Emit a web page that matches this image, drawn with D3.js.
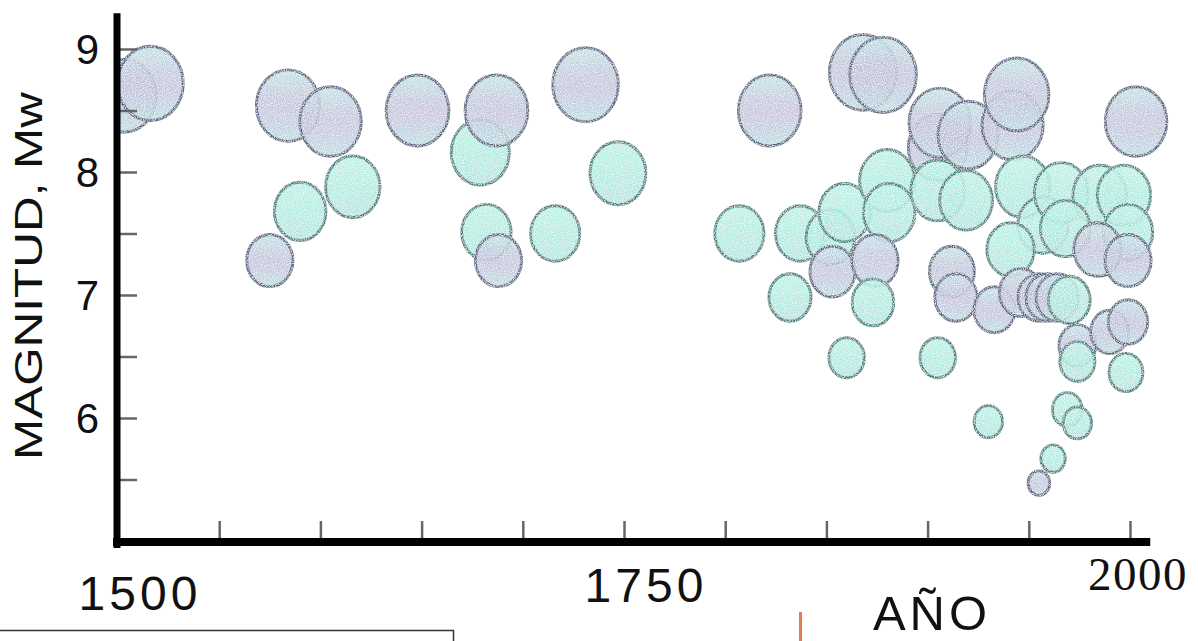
<!DOCTYPE html>
<html><head><meta charset="utf-8">
<script src="https://cdn.jsdelivr.net/npm/d3@7"></script>
<style>body{margin:0;background:#fff}svg{display:block}</style>
</head><body>
<script>
// ---- data ----
const years = [1503,1516,1584,1605,1616,1590,1575,1648,1679,1687,1731,1747,1682,1688,1716,1807,1822,1868,1878,
  1905,1906,1920,1942,1944,2003,1837,1852,1859,1880,1881,1905,1919,1947,1957,1966,1985,1997,1968,1999,1984,1999,1941,
  1832,1853,1874,1873,1912,1914,1933,1946,1955,1959,1964,1970,1974,1990,1999,1974,1998,1860,1905,1930,1969,1974,1962,1955];
const magnitudes = [8.62,8.72,8.54,8.41,7.88,7.68,7.28,8.50,8.16,8.50,8.71,7.99,7.51,7.28,7.50,7.50,8.50,8.81,8.79,
  8.20,8.40,8.30,8.38,8.63,8.41,7.50,7.47,7.67,7.93,7.67,7.85,7.77,7.88,7.57,7.83,7.81,7.81,7.54,7.51,7.37,7.28,7.37,
  6.98,7.19,7.28,6.94,7.19,6.98,6.88,7.02,6.98,6.98,6.98,6.96,6.59,6.70,6.78,6.46,6.37,6.49,6.49,5.97,6.07,5.96,5.67,5.47];
const tones = ["v","v","v","v","c","c","v","v","c","v","v","c","c","v","c","c","v","v","v",
  "v","v","v","v","v","v","c","c","c","c","c","c","c","c","c","c","c","c","c","c","v","v","c",
  "c","v","v","c","v","v","v","v","v","v","v","c","v","v","v","c","c","c","c","c","c","c","c","v"];
const yTickLabels = [6,7,8,9];
const xTickValues = [1550,1600,1650,1700,1750,1800,1850,1900,1950,2000];
const yTickValues = [5.5,6,6.5,7,7.5,8,8.5,9];
const xLabels = [{v:1500,t:"1500",serif:false},{v:1750,t:"1750",serif:false},{v:2000,t:"2000",serif:true}];

const W = 1198, H = 641;
const svg = d3.select("body").append("svg").attr("width", W).attr("height", H);
const x = d3.scaleLinear().domain([1500, 2000]).range([118, 1130]);
const y = d3.scaleLinear().domain([5, 9]).range([541, 49]);
const r = d3.scaleLinear().domain([5.5, 8.8]).range([11, 33.4]);

const defs = svg.append("defs");
const gv = defs.append("linearGradient").attr("id","gv").attr("x1",0).attr("y1",0).attr("x2",0).attr("y2",1);
[["0%","#b9dfe2"],["35%","#bcc3d9"],["55%","#bfbed7"],["80%","#b8cadc"],["100%","#b4dadc"]].forEach(s=>gv.append("stop").attr("offset",s[0]).attr("stop-color",s[1]));
const gc = defs.append("linearGradient").attr("id","gc").attr("x1",0).attr("y1",0).attr("x2",0).attr("y2",1);
[["0%","#b4efe4"],["50%","#a8eadd"],["100%","#aee0de"]].forEach(s=>gc.append("stop").attr("offset",s[0]).attr("stop-color",s[1]));
defs.append("clipPath").attr("id","plot").append("rect").attr("x",118).attr("y",0).attr("width",W-118).attr("height",541);

// grainy print texture
const f = defs.append("filter").attr("id","grain").attr("x","-10%").attr("y","-10%").attr("width","120%").attr("height","120%");
f.append("feTurbulence").attr("type","fractalNoise").attr("baseFrequency",0.9).attr("numOctaves",1).attr("seed",3).attr("result","noise");
f.append("feColorMatrix").attr("in","noise").attr("type","matrix")
  .attr("values","0 0 0 0 1  0 0 0 0 1  0 0 0 0 1  0 0 0 -2.2 1.3").attr("result","speck");
f.append("feComposite").attr("in","speck").attr("in2","SourceGraphic").attr("operator","in").attr("result","speckIn");
const fm = f.append("feMerge");
fm.append("feMergeNode").attr("in","SourceGraphic");
fm.append("feMergeNode").attr("in","speckIn");

const data = years.map((yr,i)=>({year:yr, mag:magnitudes[i], tone:tones[i]}));

svg.append("g").attr("clip-path","url(#plot)")
  .append("g").attr("filter","url(#grain)")
  .selectAll("ellipse").data(data).join("ellipse")
  .attr("cx", d=>x(d.year)).attr("cy", d=>y(d.mag))
  .attr("rx", d=>r(d.mag)).attr("ry", d=>r(d.mag)*1.13)
  .attr("fill", d=>d.tone==="c" ? "url(#gc)" : "url(#gv)")
  .attr("fill-opacity", 0.88)
  .attr("stroke", d=>d.tone==="c" ? "#4a817f" : "#5c6781")
  .attr("stroke-width", 2.9);

// axes (ticks)
const xAxis = d3.axisBottom(x).tickValues(xTickValues).tickSizeInner(-18).tickSizeOuter(0).tickFormat("");
const gx = svg.append("g").attr("transform","translate(0,539)").call(xAxis);
gx.select(".domain").remove();
gx.selectAll(".tick line").attr("stroke","#666").attr("stroke-width",2.5);

const yAxis = d3.axisLeft(y).tickValues(yTickValues).tickSizeInner(-18).tickSizeOuter(0).tickFormat("");
const gy = svg.append("g").attr("transform","translate(119,0)").call(yAxis);
gy.select(".domain").remove();
gy.selectAll(".tick line").attr("stroke","#666").attr("stroke-width",2.5);

// heavy axis lines
svg.append("line").attr("x1",x(1500)-5).attr("x2",x(2010)).attr("y1",y(5)+1).attr("y2",y(5)+1)
  .attr("stroke","#000").attr("stroke-width",8);
svg.append("line").attr("x1",117).attr("x2",117).attr("y1",y(9.29)).attr("y2",y(5)+7)
  .attr("stroke","#000").attr("stroke-width",7);

// y tick labels
svg.append("g").selectAll("text").data(yTickLabels).join("text")
  .attr("x",99).attr("y",d=>y(d)).attr("dy","0.36em")
  .attr("text-anchor","end").attr("font-family","Liberation Sans, Arial, sans-serif")
  .attr("font-size",42).attr("fill","#111").text(d=>d);

// x labels
svg.append("g").selectAll("text").data(xLabels).join("text")
  .attr("x",d=> d.serif ? x(d.v)+8 : x(d.v)+22)
  .attr("y",d=> d.serif ? 590 : (d.v===1500 ? 610 : 602))
  .attr("text-anchor","middle")
  .attr("font-family",d=> d.serif ? "Liberation Serif, Times New Roman, serif" : "Liberation Sans, Arial, sans-serif")
  .attr("font-size",d=> d.serif ? 47 : 48)
  .attr("letter-spacing",d=> d.serif ? 1.5 : 4)
  .attr("fill","#111").text(d=>d.t);

// axis titles
svg.append("text").attr("x",932).attr("y",630).attr("text-anchor","middle")
  .attr("font-family","Liberation Sans, Arial, sans-serif").attr("font-size",49).attr("letter-spacing",4)
  .attr("fill","#111").text("AÑO");
svg.append("text").attr("transform","translate(42,276) rotate(-90)").attr("text-anchor","middle")
  .attr("font-family","Liberation Sans, Arial, sans-serif").attr("font-size",38)
  .attr("textLength",368).attr("lengthAdjust","spacingAndGlyphs")
  .attr("fill","#111").text("MAGNITUD,  Mw");

// bottom frame fragment and mark
svg.append("path").attr("d","M0,630.5H453.5V641").attr("fill","none").attr("stroke","#333").attr("stroke-width",1.5);
svg.append("rect").attr("x",799).attr("y",612).attr("width",3).attr("height",29).attr("fill","#e2623a").attr("opacity",0.85);
</script>
</body></html>
